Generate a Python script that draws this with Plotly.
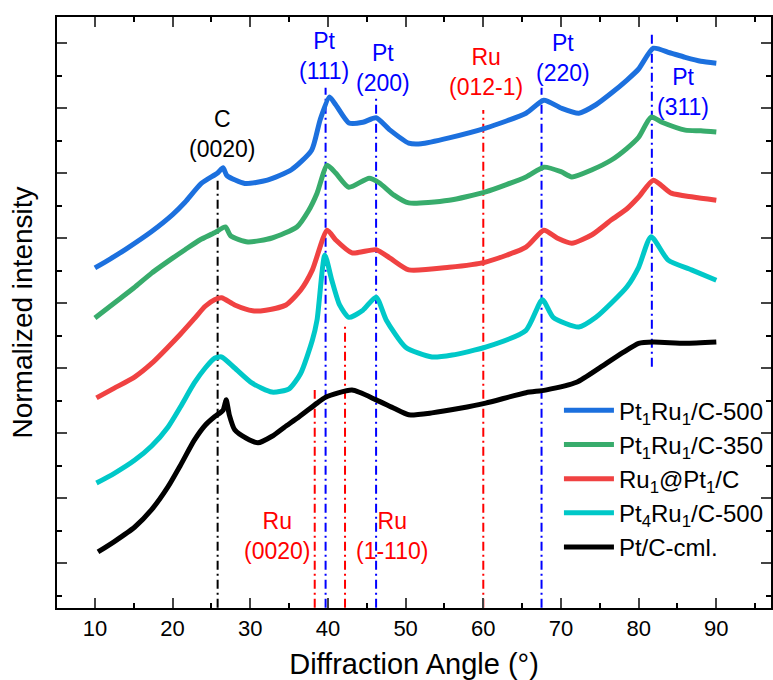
import plotly.graph_objects as go

# ---------------- data ----------------
blue_x = [10, 12, 14, 17.3, 20, 21.6, 23.7, 25.8, 26.5, 27, 29.3, 32.2, 35.3, 37.9, 39, 40.2, 41, 42.7, 44.5,
          46.2, 48, 50.4, 52, 55.6, 60.3, 65.5, 67.8, 70, 72.3, 74.5, 76.5, 78.5, 80, 81.9, 84, 86, 88, 90]
blue_y = [5.54, 5.68, 5.83, 6.10, 6.36, 6.55, 6.84, 7.00, 7.08, 6.96, 6.84, 6.89, 7.05, 7.35, 7.82, 8.17, 8.05, 7.77, 7.78,
          7.85, 7.66, 7.46, 7.45, 7.54, 7.69, 7.92, 8.12, 8.00, 7.92, 8.05, 8.23, 8.43, 8.60, 8.92, 8.85, 8.78, 8.72, 8.69]

green_x = [10, 12.5, 15, 17.3, 20, 21.6, 23.5, 25.4, 26.8, 27.5, 29.7, 32.8, 36, 37.5, 38.6, 39.9, 41, 42.7, 45.3,
           46.6, 48.5, 50.4, 55.6, 60.3, 65.5, 67.8, 70, 71.4, 74, 76.5, 78.5, 80, 81.6, 83, 86, 88, 90]
green_y = [4.77, 5.00, 5.23, 5.46, 5.69, 5.82, 5.97, 6.08, 6.17, 6.03, 5.94, 6.00, 6.17, 6.42, 6.69, 7.12, 7.00, 6.78, 6.92,
           6.85, 6.66, 6.54, 6.58, 6.71, 6.94, 7.09, 7.02, 6.94, 7.05, 7.20, 7.38, 7.55, 7.86, 7.78, 7.66, 7.65, 7.63]

red_x = [10.2, 12.5, 15.1, 17.3, 19.4, 21, 22.8, 24.2, 25.4, 26.3, 28, 30.3, 32, 34.6, 36.5, 38, 39.9, 41, 43.1, 46.2,
         48, 50.4, 55.6, 60.3, 65.5, 67.8, 69.5, 71.4, 74, 76.5, 78.5, 80, 81.9, 84.2, 87, 90]
red_y = [3.54, 3.69, 3.86, 4.07, 4.32, 4.52, 4.76, 4.95, 5.05, 5.08, 4.97, 4.88, 4.89, 4.97, 5.20, 5.51, 6.12, 5.97,
         5.77, 5.82, 5.69, 5.51, 5.55, 5.63, 5.86, 6.12, 6.00, 5.92, 6.05, 6.28, 6.45, 6.63, 6.89, 6.69, 6.63, 6.58]

cyan_x = [10.2, 12.5, 15.1, 17.3, 19.4, 21, 22.8, 24.2, 25.4, 26.3, 28, 30.2, 32.8, 35, 36.5, 38, 38.6, 39.6, 40.5,
          41.5, 42.7, 44.5, 46.2, 47.5, 50, 53.4, 56, 60.3, 65.5, 67.6, 69, 72.3, 74.5, 76.5, 78.5, 80, 81.6, 83.8,
          86.8, 90]
cyan_y = [2.23, 2.38, 2.58, 2.80, 3.09, 3.40, 3.77, 4.00, 4.15, 4.17, 4.00, 3.77, 3.63, 3.68, 3.92, 4.43, 4.74, 5.74,
          5.35, 4.97, 4.78, 4.89, 5.09, 4.74, 4.32, 4.17, 4.20, 4.32, 4.58, 5.05, 4.78, 4.63, 4.78, 5.00, 5.25, 5.55,
          6.02, 5.66, 5.51, 5.35]

black_x = [10.4, 12.5, 15.1, 17.3, 19.4, 21, 22.8, 24.2, 25.4, 26.5, 26.9, 27.3, 28, 29.5, 31, 32.8, 34.4, 36.3, 38.6,
           39.7, 43.1, 46.2, 48.5, 50.4, 53.4, 57, 60.3, 65.5, 68, 72, 75.2, 78, 80, 81.9, 86, 90]
black_y = [1.17, 1.33, 1.55, 1.82, 2.17, 2.50, 2.89, 3.12, 3.25, 3.35, 3.51, 3.28, 3.05, 2.92, 2.85, 2.95, 3.09, 3.25,
           3.46, 3.55, 3.66, 3.51, 3.38, 3.28, 3.31, 3.38, 3.46, 3.62, 3.66, 3.78, 4.02, 4.24, 4.38, 4.40, 4.38, 4.40]

series_names = ["Pt<sub>1</sub>Ru<sub>1</sub>/C-500", "Pt<sub>1</sub>Ru<sub>1</sub>/C-350",
                "Ru<sub>1</sub>@Pt<sub>1</sub>/C", "Pt<sub>4</sub>Ru<sub>1</sub>/C-500", "Pt/C-cml."]
series_colors = ["rgb(28,112,222)", "rgb(56,172,108)", "rgb(240,66,66)", "rgb(0,200,200)", "rgb(0,0,0)"]

# reference lines: position, top, bottom, colour
ref_x = [25.8, 39.7, 46.2, 60.0, 67.5, 81.7, 38.3, 42.2]
ref_top = [6.92, 8.31, 8.15, 7.97, 8.31, 9.18, 3.66, 4.69]
ref_bottom = [0.31, 0.31, 0.31, 0.31, 0.31, 4.02, 0.31, 0.31]
ref_color = ["black", "blue", "blue", "red", "blue", "blue", "red", "red"]

# peak labels
lab_text = ["C<br>(0020)", "Pt<br>(111)", "Pt<br>(200)", "Ru<br>(012-1)", "Pt<br>(220)", "Pt<br>(311)",
            "Ru<br>(0020)", "Ru<br>(1-110)"]
lab_x = [26.3, 39.5, 47.1, 60.4, 70.3, 85.7, 33.4, 48.3]
lab_y = [7.60, 8.80, 8.62, 8.55, 8.77, 8.25, 1.42, 1.42]
lab_color = ["black", "blue", "blue", "red", "blue", "blue", "red", "red"]

x_ticks = [10, 20, 30, 40, 50, 60, 70, 80, 90]

# ---------------- figure ----------------
fig = go.Figure()

# reference lines (under curves)
for xv, t, b, c in zip(ref_x, ref_top, ref_bottom, ref_color):
    fig.add_trace(go.Scatter(x=[xv, xv], y=[b, t], mode="lines", showlegend=False, hoverinfo="skip",
                             line=dict(color=c, width=2, dash="9px,4px,2px,4px")))

all_x = [blue_x, green_x, red_x, cyan_x, black_x]
all_y = [blue_y, green_y, red_y, cyan_y, black_y]
for i, (xs, ys, nm, col) in enumerate(zip(all_x, all_y, series_names, series_colors)):
    fig.add_trace(go.Scatter(x=xs, y=ys, mode="lines", name=nm, legendgroup=f"g{i}",
                             line=dict(color=col, width=5, shape="spline", smoothing=0.6)))

for t, xv, yv, c in zip(lab_text, lab_x, lab_y, lab_color):
    fig.add_annotation(x=xv, y=yv, xref="x", yref="y", text=t, showarrow=False,
                       font=dict(size=23, color=c, family="Liberation Sans, Arial"),
                       xanchor="center", yanchor="middle", align="center")

fig.update_layout(
    width=773, height=680,
    margin=dict(l=57, r=0, t=17, b=72),
    plot_bgcolor="white", paper_bgcolor="white",
    font=dict(family="Liberation Sans, Arial", color="black"),
    legend=dict(x=0.703, y=0.372, xanchor="left", yanchor="top", bgcolor="rgba(0,0,0,0)",
                font=dict(size=24), tracegroupgap=6, traceorder="normal", itemwidth=50),
    xaxis=dict(range=[5.12, 97.04], tickvals=x_ticks, ticks="inside", ticklen=10, tickwidth=2,
               showline=True, linewidth=2, linecolor="black", mirror="ticks", showgrid=False,
               zeroline=False, tickfont=dict(size=22),
               minor=dict(dtick=5, tick0=0, ticks="inside", ticklen=5, tickwidth=2, tickcolor="black"),
               title=dict(text="Diffraction Angle (°)", font=dict(size=29), standoff=13)),
    yaxis=dict(range=[0.308, 9.4], tick0=1, dtick=1, ticks="inside", ticklen=10, tickwidth=2,
               showticklabels=False, showline=True, linewidth=2, linecolor="black", mirror="ticks",
               showgrid=False, zeroline=False,
               minor=dict(dtick=0.5, tick0=0.5, ticks="inside", ticklen=5, tickwidth=2, tickcolor="black"),
               title=dict(text="Normalized intensity", font=dict(size=28), standoff=14)),
)

fig.write_html("out.html")
